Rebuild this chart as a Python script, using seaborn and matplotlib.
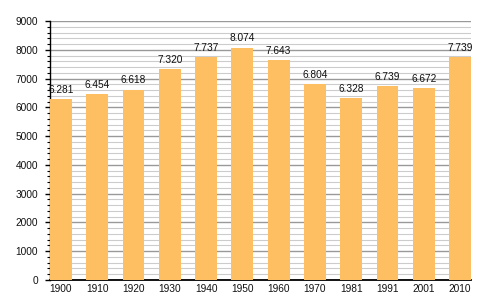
import matplotlib
matplotlib.use("Agg")
import matplotlib.pyplot as plt
import seaborn as sns
import pandas as pd
from matplotlib.ticker import MultipleLocator

years = ["1900", "1910", "1920", "1930", "1940", "1950", "1960", "1970", "1981", "1991", "2001", "2010"]
population = [6281, 6454, 6618, 7320, 7737, 8074, 7643, 6804, 6328, 6739, 6672, 7739]
labels = ["6.281", "6.454", "6.618", "7.320", "7.737", "8.074", "7.643", "6.804", "6.328", "6.739", "6.672", "7.739"]

sns.set_style("white")
plt.rcParams['font.family'] = ['Liberation Sans', 'DejaVu Sans']

df = pd.DataFrame({"year": years, "pop": population})

fig = plt.figure(figsize=(5, 3), dpi=100)
ax = fig.add_axes([0.1, 0.0667, 0.842, 0.8633])
sns.barplot(data=df, x="year", y="pop", color="#FEBE62", saturation=1, width=0.6,
            linewidth=0, edgecolor="none", ax=ax, zorder=3)

ax.set_xlim(-0.3, len(years) - 0.7)
ax.set_ylim(0, 9000)
ax.yaxis.set_major_locator(MultipleLocator(1000))
ax.yaxis.set_minor_locator(MultipleLocator(200))
ax.grid(which="major", axis="y", color="#999999", linewidth=1.0, zorder=0)
ax.grid(which="minor", axis="y", color="#cccccc", linewidth=0.8, zorder=0)
ax.set_axisbelow(True)

for s in ["top", "right"]:
    ax.spines[s].set_visible(False)
ax.spines["left"].set_color("black")
ax.spines["left"].set_linewidth(1.0)
ax.spines["bottom"].set_color("black")
ax.spines["bottom"].set_linewidth(1.3)

ax.tick_params(axis="y", which="major", direction="out", length=3.6, width=1, color="black",
               labelsize=7.3, pad=5, left=True, labelcolor="#111111")
ax.tick_params(axis="y", which="minor", direction="out", length=2.2, width=0.8, color="black", left=True)
ax.tick_params(axis="x", which="both", length=0, labelsize=7.3, pad=3, labelcolor="#111111")
ax.set_xlabel("")
ax.set_ylabel("")

ax.bar_label(ax.containers[0], labels=labels, padding=3, fontsize=7.3, color="#111111")

fig.savefig("out.png", dpi=100)
